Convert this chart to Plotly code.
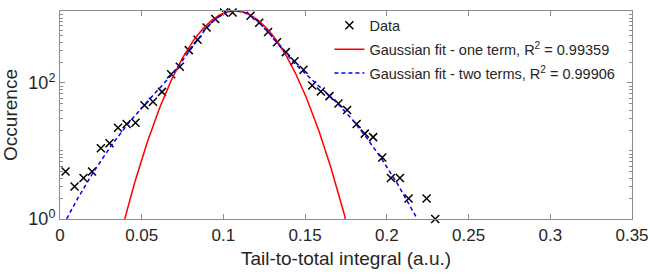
import numpy as np
import plotly.graph_objects as go

# ---- Data ----
x_data = [0.0034, 0.0089, 0.0144, 0.0196, 0.0250, 0.0303, 0.0355, 0.0408, 0.0462, 0.0517,
          0.0569, 0.0624, 0.0680, 0.0733, 0.0788, 0.0842, 0.0897, 0.0950, 0.1004, 0.1056,
          0.1109, 0.1166, 0.1219, 0.1273, 0.1328, 0.1382, 0.1435, 0.1490, 0.1543, 0.1596,
          0.1649, 0.1704, 0.1757, 0.1815, 0.1865, 0.1916, 0.1972, 0.2025, 0.2080, 0.2133,
          0.2243, 0.2296]
y_data = [5, 3, 4, 5, 11, 13, 22, 25, 26, 47,
          53, 74, 134, 173, 304, 432, 654, 871, 1084, 1084,
          1150, 970, 769, 562, 397, 284, 209, 156, 92, 75,
          64, 50, 40, 25, 18, 16, 8, 4, 4, 2,
          2, 1]

# ---- Fit parameters (estimated from the drawn curves) ----
one_term = dict(a=1140.0, b=0.1071, c=0.02548)
two_terms = dict(a1=898.1, b1=0.10712, c1=0.02033, a2=262.8, b2=0.11126, c2=0.04548)
r2_one = "0.99359"
r2_two = "0.99906"

# ---- Tick labels ----
x_tickvals = [0, 0.05, 0.1, 0.15, 0.2, 0.25, 0.3, 0.35]
x_ticktext = ["0", "0.05", "0.1", "0.15", "0.2", "0.25", "0.3", "0.35"]
y_tickvals = [1, 100]
y_ticktext = ["10<sup>0</sup>", "10<sup>2</sup>"]
y_minor = [2, 3, 4, 5, 6, 7, 8, 9, 10, 20, 30, 40, 50, 60, 70, 80, 90,
           200, 300, 400, 500, 600, 700, 800, 900, 1000]

xs = np.linspace(0, 0.35, 701)
red = one_term["a"] * np.exp(-((xs - one_term["b"]) / one_term["c"]) ** 2)
blue = (two_terms["a1"] * np.exp(-((xs - two_terms["b1"]) / two_terms["c1"]) ** 2)
        + two_terms["a2"] * np.exp(-((xs - two_terms["b2"]) / two_terms["c2"]) ** 2))

fig = go.Figure()
fig.add_trace(go.Scatter(x=x_data, y=y_data, mode="markers", name="Data", legendgroup="g1",
                         marker=dict(symbol="x-thin", size=8, line=dict(width=1.5, color="black")),
                         cliponaxis=False))
fig.add_trace(go.Scatter(x=xs, y=red, mode="lines", legendgroup="g2",
                         name="Gaussian fit - one term, R<sup>2</sup> = " + r2_one,
                         line=dict(color="#ff0000", width=1.5)))
fig.add_trace(go.Scatter(x=xs, y=blue, mode="lines", legendgroup="g3",
                         name="Gaussian fit - two terms, R<sup>2</sup> = " + r2_two,
                         line=dict(color="#0000ff", width=1.5, dash="4px,3px")))

axis_color = "#8c8c8c"
fig.update_layout(
    width=650, height=275, margin=dict(l=60, r=18, t=10, b=56),
    paper_bgcolor="white", plot_bgcolor="white",
    font=dict(family="Liberation Sans, Arial", color="#262626"),
    showlegend=True,
    legend=dict(x=0.471, y=1.003, xanchor="left", yanchor="top", bgcolor="rgba(0,0,0,0)",
                font=dict(size=14.5), itemwidth=30, tracegroupgap=2),
    xaxis=dict(range=[0, 0.35], tickmode="array", tickvals=x_tickvals, ticktext=x_ticktext,
               ticks="inside", ticklen=5, tickcolor=axis_color, showline=True, linecolor=axis_color,
               linewidth=1, mirror="ticks", showgrid=False, zeroline=False, automargin=False,
               tickfont=dict(size=17), ticklabelstandoff=1,
               title=dict(text="Tail-to-total integral (a.u.)", font=dict(size=19), standoff=7)),
    yaxis=dict(type="log", range=[0, 3.058], tickmode="array", tickvals=y_tickvals,
               ticktext=y_ticktext,
               ticks="inside", ticklen=5, tickcolor=axis_color, showline=True, linecolor=axis_color,
               linewidth=1, mirror="ticks", showgrid=False, zeroline=False, automargin=False,
               tickfont=dict(size=18), ticklabelstandoff=0,
               title=dict(text="Occurence", font=dict(size=19), standoff=18),
               minor=dict(tickmode="array", tickvals=y_minor,
                          ticks="inside", ticklen=3, tickcolor=axis_color, showgrid=False)),
)
fig.write_html("out.html", config={"displayModeBar": False},
               post_script="document.body.style.margin='0';document.body.style.overflow='hidden';")
